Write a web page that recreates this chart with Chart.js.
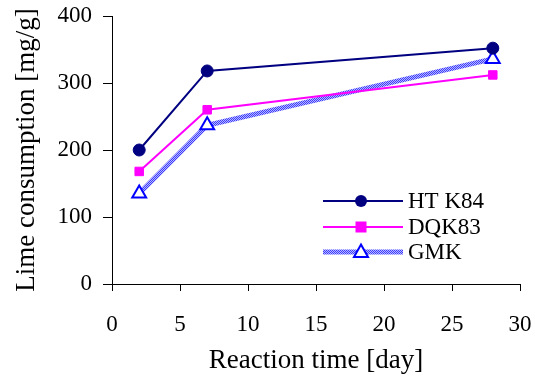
<!DOCTYPE html>
<html>
<head>
<meta charset="utf-8">
<script src="https://cdn.jsdelivr.net/npm/chart.js@4.4.1/dist/chart.umd.min.js"></script>
<style>
  html, body { margin: 0; padding: 0; background: #fff; }
  #wrap { width: 535px; height: 377px; }
</style>
</head>
<body>
<div id="wrap"><canvas id="lime" width="535" height="377"></canvas></div>
<script>
// reaction time in days, lime consumption in mg/g
const days = [2, 7, 28];
const htk84 = [200, 318, 352];
const dqk83 = [168, 260, 312];
const gmk = [135, 237, 336];
const xTicks = [0, 5, 10, 15, 20, 25, 30];
const yTicks = [0, 100, 200, 300, 400];

const serif = "'Liberation Serif', 'Times New Roman', serif";

// halftone blue used for the GMK line
function hatch() {
  const c = document.createElement("canvas");
  c.width = 2; c.height = 2;
  const g = c.getContext("2d");
  g.fillStyle = "#b8b8ff";
  g.fillRect(0, 0, 2, 2);
  g.fillStyle = "#3c3cff";
  g.fillRect(0, 0, 1, 1);
  g.fillRect(1, 1, 1, 1);
  return g.createPattern(c, "repeat");
}

const ctx = document.getElementById("lime").getContext("2d");
const gmkLine = hatch();

function pts(ys) {
  return days.map((d, i) => ({ x: d, y: ys[i] }));
}

// keep the plot box fixed: no extra room for overhanging tick labels
function noPad(s) {
  s.paddingLeft = 0;
  s.paddingRight = 0;
  s.paddingTop = 0;
  s.paddingBottom = 0;
}

// legend drawn inside the plot area
const boxLegend = {
  id: "boxLegend",
  afterDatasetsDraw(chart) {
    const c = chart.ctx;
    const x0 = 323, x1 = 403, rows = [201, 227, 252];
    c.save();
    chart.data.datasets.forEach((ds, i) => {
      const y = rows[i];
      c.strokeStyle = ds.borderColor;
      c.lineWidth = ds.borderWidth;
      c.beginPath();
      c.moveTo(x0, y);
      c.lineTo(x1, y);
      c.stroke();
      const mx = (x0 + x1) / 2 - 2;
      c.lineWidth = ds.pointBorderWidth;
      c.strokeStyle = ds.pointBorderColor;
      c.fillStyle = ds.pointBackgroundColor;
      c.beginPath();
      if (ds.pointStyle === "circle") {
        c.arc(mx, y, 6, 0, Math.PI * 2);
        c.fill();
      } else if (ds.pointStyle === "rect") {
        c.rect(mx - 5.5, y - 5.5, 11, 11);
        c.fill();
      } else {
        c.moveTo(mx, y - 7.5);
        c.lineTo(mx + 7, y + 5);
        c.lineTo(mx - 7, y + 5);
        c.closePath();
        c.fill();
        c.stroke();
      }
      c.fillStyle = "#000";
      c.font = "23px " + serif;
      c.textBaseline = "middle";
      c.fillText(ds.label, 408, y + 1);
    });
    c.restore();
  }
};

new Chart(ctx, {
  type: "line",
  data: {
    datasets: [
      {
        label: "HT K84",
        data: pts(htk84),
        borderColor: "#000080",
        borderWidth: 2,
        pointStyle: "circle",
        pointRadius: 6,
        pointBackgroundColor: "#000080",
        pointBorderColor: "#000080",
        pointBorderWidth: 1
      },
      {
        label: "DQK83",
        data: pts(dqk83),
        borderColor: "#ff00ff",
        borderWidth: 2,
        pointStyle: "rect",
        pointRadius: 6,
        pointBackgroundColor: "#ff00ff",
        pointBorderColor: "#ff00ff",
        pointBorderWidth: 1
      },
      {
        label: "GMK",
        data: pts(gmk),
        borderColor: gmkLine,
        borderWidth: 5,
        pointStyle: "triangle",
        pointRadius: 8,
        pointBackgroundColor: "#ffffff",
        pointBorderColor: "#0000ff",
        pointBorderWidth: 2
      }
    ]
  },
  options: {
    responsive: false,
    animation: false,
    layout: { padding: { left: 0, right: 15, top: 16, bottom: 0 } },
    plugins: {
      legend: { display: false },
      tooltip: { enabled: false }
    },
    scales: {
      x: {
        type: "linear",
        min: 0,
        max: 30,
        afterBuildTicks: s => { s.ticks = xTicks.map(v => ({ value: v })); },
        afterFit: s => { s.height = 93; noPad(s); },
        border: { color: "#000", width: 1 },
        grid: { drawOnChartArea: false, color: "#000", tickLength: 7 },
        ticks: { color: "#000", padding: 20, font: { family: serif, size: 23 } },
        title: {
          display: true,
          text: "Reaction time [day]",
          color: "#000",
          font: { family: serif, size: 27 },
          padding: { top: 1, bottom: 0 }
        }
      },
      y: {
        min: 0,
        max: 400,
        afterBuildTicks: s => { s.ticks = yTicks.map(v => ({ value: v })); },
        afterFit: s => { s.width = 112; noPad(s); },
        border: { color: "#000", width: 1 },
        grid: { drawOnChartArea: false, color: "#000", tickLength: 9 },
        ticks: { color: "#000", padding: 11, font: { family: serif, size: 23 } },
        title: {
          display: true,
          text: "Lime consumption [mg/g]",
          color: "#000",
          font: { family: serif, size: 27 },
          padding: { top: 11, bottom: 0 }
        }
      }
    }
  },
  plugins: [boxLegend]
});
</script>
</body>
</html>
